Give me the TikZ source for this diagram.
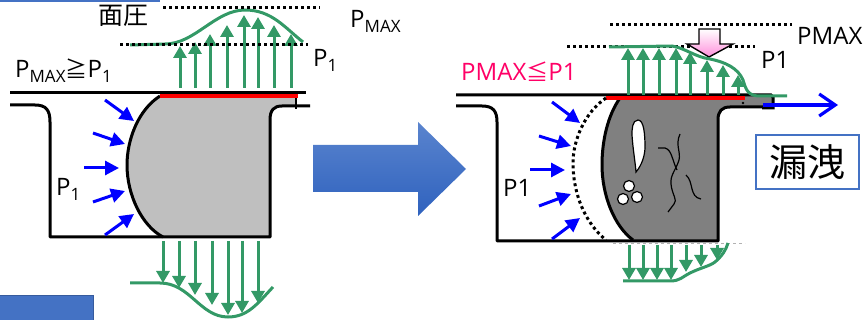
\documentclass[tikz,border=0pt]{standalone}
\usepackage{fontspec}
\setmainfont{Open Sans}
\newfontfamily\jpfont{Noto Sans CJK JP}
\usetikzlibrary{arrows.meta,positioning,calc}
\definecolor{sealgreen}{HTML}{339966}
\definecolor{pushblue}{HTML}{0000FF}
\definecolor{boxblue}{HTML}{4472C4}
\definecolor{rubbergray}{HTML}{BFBFBF}
\definecolor{agedgray}{HTML}{808080}
\definecolor{warnpink}{HTML}{FF0066}
\definecolor{arrowtop}{HTML}{5A84CE}
\definecolor{arrowbot}{HTML}{2F62BE}
\definecolor{pinkbot}{HTML}{FF8FDC}
\newcommand{\sizept}[1]{\fontsize{#1}{#1}\selectfont}
\newcommand{\lowtxt}[1]{\raisebox{-5pt}{\sizept{17}#1}}
\begin{document}
\begin{tikzpicture}[x=1pt,y=-1pt,
	upgreen/.style={draw=sealgreen,line width=3pt,-{Triangle[width=13pt,length=12pt]}},
	curvegreen/.style={draw=sealgreen,line width=3pt},
	pushar/.style={draw=pushblue,line width=3pt,-{Triangle[width=14pt,length=14pt]}},
	level/.style={draw=black,line width=3pt,dash pattern=on 3pt off 3pt},
	body/.style={draw=black,line width=3pt,line join=round},
	lab/.style={inner sep=0pt,text=black,font=\sizept{24}},
	crack/.style={draw=black,line width=1.2pt},
	hole/.style={draw=black,fill=white,line width=1.2pt}]
	\useasboundingbox (0,0) rectangle (865,320);
	% boxes cut by the frame
	\fill[boxblue] (0,0) rectangle (160,2.5);
	\fill[boxblue] (0,296) rectangle (93,320);
	\draw[boxblue!80!black,line width=1pt] (0,296) -- (93,296) -- (93,320);
	% left seal
	\fill[rubbergray] (160,96) .. controls (138,110) and (127,140) .. (127,165) .. controls (127,195) and (142,226) .. (163,237) -- (270,237) -- (270,120) .. controls (270,110) and (274,106) .. (282,106) -- (296,106) -- (296,96) -- cycle;
	\draw[body] (160,96) .. controls (138,110) and (127,140) .. (127,165) .. controls (127,195) and (142,226) .. (163,237);
	\draw[body] (10,105) -- (35,105) .. controls (46,105) and (50,110) .. (50,122) -- (50,237) -- (270,237) -- (270,120) .. controls (270,110) and (274,106) .. (282,106) -- (310,106);
	\draw[black,line width=3pt] (10,93) -- (306,93);
	\draw[black,line width=1.4pt] (296,97) -- (296,109);
	\draw[red,line width=3.4pt] (160,96) -- (298,96);
	\foreach \px/\py/\qx/\qy in {105/100/134/121,93/133/125/144,84/168/119/168,93/202/125/191,105/235/134/214}
		\draw[pushar] (\px,\py) -- (\qx,\qy);
	\foreach \px/\py in {180/46,195/42,210/34,227/25,244/15,258/17,274/25,291/34}
		\draw[upgreen] (\px,88) -- (\px,\py);
	\draw[curvegreen] (130,45) -- (165,44) .. controls (195,44) and (215,10) .. (245,10) .. controls (272,10) and (285,28) .. (303,42);
	\foreach \px/\py in {163/283,179/288,195/295,212/305,228/315,242/313,258/303}
		\draw[upgreen] (\px,241) -- (\px,\py);
	\draw[curvegreen] (130,283) -- (160,283) .. controls (190,283) and (200,317) .. (228,317) .. controls (248,317) and (258,303) .. (273,287);
	\draw[level] (163,8) -- (320,8);
	\draw[level] (120,45) -- (308,45);
	\node[lab,font=\jpfont\sizept{25}] (menatsu) at (123,16) {面圧};
	\node[lab,anchor=west] (pmaxa) at (350,21) {P\lowtxt{MAX}};
	\node[lab,anchor=west] (pone) at (313,60) {P\lowtxt{1}};
	\node[lab,anchor=west] (relA) at (15,71) {P\lowtxt{MAX}{\jpfont\sizept{22}≧}P\lowtxt{1}};
	\node[lab,anchor=west] (ptwo) at (56,189) {P\lowtxt{1}};
	% big arrow
	\shade[top color=arrowtop,bottom color=arrowbot] (313,145) -- (418,145) -- (418,122) -- (466,169) -- (418,216) -- (418,192) -- (313,192) -- cycle;
	% right seal
	\fill[agedgray] (620,98) .. controls (608,115) and (602,140) .. (602,165) .. controls (602,195) and (614,226) .. (633,240) -- (718,240) -- (718,120) .. controls (718,111) and (722,107) .. (730,107) -- (772,107) -- (772,96) -- (745,96) -- cycle;
	\draw[body] (620,98) .. controls (608,115) and (602,140) .. (602,165) .. controls (602,195) and (614,226) .. (633,240);
	\draw[body] (456,106) -- (482,106) .. controls (493,106) and (497,111) .. (497,122) -- (497,241) -- (718,241) -- (718,120) .. controls (718,111) and (722,107) .. (730,107) -- (763,107);
	\draw[black,line width=3pt] (456,95) -- (771,95) -- (773,97) -- (773,108) -- (762,108);
	\draw[red,line width=3.4pt] (606,98) -- (745,98);
	\draw[level] (606,98) .. controls (585,112) and (573,140) .. (573,163) .. controls (573,195) and (586,224) .. (606,240);
	\fill[black] (743,103) circle (1.4);
	\draw[gray!60,line width=.7pt,dashed] (613,243) -- (745,243);
	% voids and cracks
	\draw[hole] (638,120) .. controls (632,120) and (632,130) .. (632,135) .. controls (633,150) and (635,160) .. (636,172) .. controls (642,165) and (645,155) .. (645,147) .. controls (645,135) and (644,120) .. (638,120) -- cycle;
	\foreach \px/\py in {629/186,637/197,623/199}
		\draw[hole] (\px,\py) circle (5.5);
	\draw[crack] (680,134) .. controls (675,145) and (681,152) .. (679,160) .. controls (676,170) and (670,175) .. (671,184) .. controls (672,195) and (678,200) .. (674,204) -- (668,212);
	\draw[crack] (658,148) -- (665,148) .. controls (672,150) and (672,160) .. (677,170);
	\draw[crack] (686,175) .. controls (694,182) and (689,197) .. (701,199);
	\foreach \px/\py/\qx/\qy in {552/102/580/123,539/136/571/146,530/170/565/170,539/206/571/194,552/239/580/218}
		\draw[pushar] (\px,\py) -- (\qx,\qy);
	\foreach \px/\py in {628/48,643/48,659/48,676/48,690/52,707/60,723/65,738/75}
		\draw[upgreen] (\px,95) -- (\px,\py);
	\foreach \px/\py in {629/280,643/280,657/280,671/280,686/272,701/267,717/260}
		\draw[upgreen] (\px,245) -- (\px,\py);
	\draw[curvegreen] (623,281) -- (670,281) .. controls (680,281) and (682,277) .. (690,273) .. controls (700,268) and (710,266) .. (715,262) .. controls (722,256) and (726,250) .. (728,243);
	\draw[level] (610,25) -- (792,25);
	\draw[level] (567,47) -- (755,47);
	% pink arrow
	\shade[top color=white,bottom color=pinkbot,draw=black,line width=1.4pt] (699,29) -- (720,29) -- (720,44) -- (733,44) -- (709,57) -- (687,44) -- (699,44) -- cycle;
	\draw[curvegreen] (609,47) -- (672,46) .. controls (685,48) and (695,57) .. (710,59) .. controls (725,62) and (738,68) .. (743,80) .. controls (746,90) and (748,96) .. (760,96) -- (787,96);
	\draw[draw=pushblue,line width=3.2pt,-{Straight Barb[width=22pt,length=16pt]}] (763,105) -- (838,105);
	\node[lab,anchor=west] (pmaxb) at (797,36) {PMAX};
	\node[lab,anchor=west] (pthree) at (761,60) {P1};
	\node[lab,anchor=west,text=warnpink] (relB) at (461,72) {PMAX{\jpfont\sizept{22}≦}P1};
	\node[lab,anchor=west] (pfour) at (503,188) {P1};
	\node[draw=boxblue,line width=1.6pt,fill=white,minimum width=103pt,minimum height=54pt,inner sep=0pt,font=\jpfont\sizept{38}] (leak) at (807.5,162) {漏洩};
\end{tikzpicture}
\end{document}
